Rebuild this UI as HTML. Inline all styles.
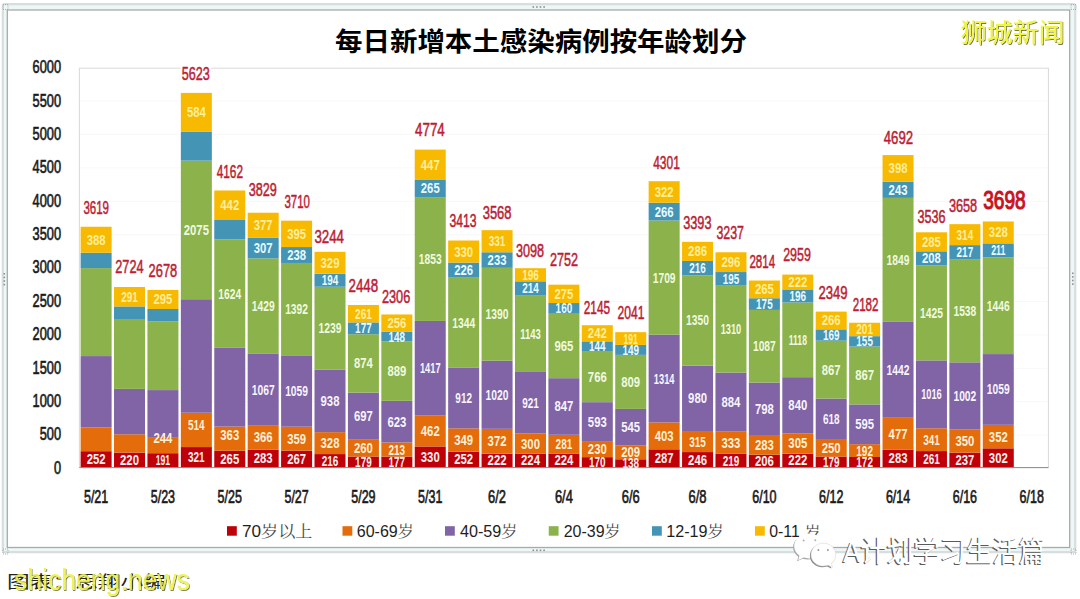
<!DOCTYPE html><html><head><meta charset="utf-8"><title>每日新增本土感染病例按年龄划分</title><style>
html,body{margin:0;padding:0;background:#fff;overflow:hidden}
svg{display:block}
.num{font-family:"Liberation Sans",sans-serif;font-weight:bold}
.cjk{font-family:"Liberation Sans","Noto Sans CJK SC",sans-serif}
</style></head><body>
<svg width="1080" height="599" viewBox="0 0 1080 599">
<rect x="0" y="0" width="1080" height="599" fill="#ffffff"/>
<defs><filter id="ds" x="-5%" y="-20%" width="110%" height="140%"><feOffset in="SourceAlpha" dx="1" dy="1" result="off"/><feComposite in="off" in2="SourceAlpha" operator="out" result="edge"/><feFlood flood-color="#4a4a10" flood-opacity="0.75"/><feComposite in2="edge" operator="in" result="shadow"/><feMerge><feMergeNode in="shadow"/><feMergeNode in="SourceGraphic"/></feMerge></filter></defs>
<rect x="2.8" y="4.2" width="1072.4" height="548" rx="2" fill="#eff6f6" stroke="#d6dede" stroke-width="2.2"/>
<rect x="7.3" y="10" width="1062.4" height="537.5" fill="#ffffff" stroke="#a3abab" stroke-width="1.3"/>
<rect x="532.5" y="6.2" width="1.6" height="1.6" fill="#8a9090"/>
<rect x="536.1" y="6.2" width="1.6" height="1.6" fill="#8a9090"/>
<rect x="539.7" y="6.2" width="1.6" height="1.6" fill="#8a9090"/>
<rect x="543.3" y="6.2" width="1.6" height="1.6" fill="#8a9090"/>
<rect x="1072" y="272.5" width="1.6" height="1.6" fill="#8a9090"/>
<rect x="1072" y="276.1" width="1.6" height="1.6" fill="#8a9090"/>
<rect x="1072" y="279.7" width="1.6" height="1.6" fill="#8a9090"/>
<rect x="1072" y="283.3" width="1.6" height="1.6" fill="#8a9090"/>
<rect x="3.5" y="273" width="1.6" height="1.6" fill="#8a9090"/>
<rect x="3.5" y="276.6" width="1.6" height="1.6" fill="#8a9090"/>
<rect x="3.5" y="280.2" width="1.6" height="1.6" fill="#8a9090"/>
<rect x="3.5" y="283.8" width="1.6" height="1.6" fill="#8a9090"/>
<rect x="532.5" y="549.5" width="1.6" height="1.6" fill="#8a9090"/>
<rect x="536.1" y="549.5" width="1.6" height="1.6" fill="#8a9090"/>
<rect x="539.7" y="549.5" width="1.6" height="1.6" fill="#8a9090"/>
<rect x="543.3" y="549.5" width="1.6" height="1.6" fill="#8a9090"/>
<rect x="3" y="4.5" width="5" height="5" fill="none" stroke="#9aa0a0" stroke-width="0.8" stroke-dasharray="1 1"/>
<rect x="1071" y="4.5" width="5" height="5" fill="none" stroke="#9aa0a0" stroke-width="0.8" stroke-dasharray="1 1"/>
<rect x="3" y="549" width="5" height="5" fill="none" stroke="#9aa0a0" stroke-width="0.8" stroke-dasharray="1 1"/>
<rect x="1071" y="549" width="5" height="5" fill="none" stroke="#9aa0a0" stroke-width="0.8" stroke-dasharray="1 1"/>
<text class="cjk" x="335" y="50" font-size="26" font-weight="bold" fill="#000" dy="0.5" textLength="412" lengthAdjust="spacingAndGlyphs">每日新增本土感染病例按年龄划分</text>
<rect x="79.4" y="68.2" width="969" height="399.4" fill="#fff" stroke="#d9d9d9" stroke-width="1"/>
<line x1="79.9" y1="435.1" x2="1047.9" y2="435.1" stroke="#f8f8f8" stroke-width="1"/>
<line x1="79.9" y1="401.7" x2="1047.9" y2="401.7" stroke="#f8f8f8" stroke-width="1"/>
<line x1="79.9" y1="368.3" x2="1047.9" y2="368.3" stroke="#f8f8f8" stroke-width="1"/>
<line x1="79.9" y1="334.9" x2="1047.9" y2="334.9" stroke="#f8f8f8" stroke-width="1"/>
<line x1="79.9" y1="301.5" x2="1047.9" y2="301.5" stroke="#f8f8f8" stroke-width="1"/>
<line x1="79.9" y1="268.1" x2="1047.9" y2="268.1" stroke="#f8f8f8" stroke-width="1"/>
<line x1="79.9" y1="234.7" x2="1047.9" y2="234.7" stroke="#f8f8f8" stroke-width="1"/>
<line x1="79.9" y1="201.3" x2="1047.9" y2="201.3" stroke="#f8f8f8" stroke-width="1"/>
<line x1="79.9" y1="167.9" x2="1047.9" y2="167.9" stroke="#f8f8f8" stroke-width="1"/>
<line x1="79.9" y1="134.5" x2="1047.9" y2="134.5" stroke="#f8f8f8" stroke-width="1"/>
<line x1="79.9" y1="101.1" x2="1047.9" y2="101.1" stroke="#f8f8f8" stroke-width="1"/>
<text class="num" x="61" y="473.7" font-size="17.6" style="font-weight:normal" stroke="#1a1a1a" stroke-width="0.65" fill="#1a1a1a" text-anchor="end" textLength="7.1" lengthAdjust="spacingAndGlyphs">0</text>
<text class="num" x="61" y="440.33" font-size="17.6" style="font-weight:normal" stroke="#1a1a1a" stroke-width="0.65" fill="#1a1a1a" text-anchor="end" textLength="21.3" lengthAdjust="spacingAndGlyphs">500</text>
<text class="num" x="61" y="406.96" font-size="17.6" style="font-weight:normal" stroke="#1a1a1a" stroke-width="0.65" fill="#1a1a1a" text-anchor="end" textLength="28.4" lengthAdjust="spacingAndGlyphs">1000</text>
<text class="num" x="61" y="373.59" font-size="17.6" style="font-weight:normal" stroke="#1a1a1a" stroke-width="0.65" fill="#1a1a1a" text-anchor="end" textLength="28.4" lengthAdjust="spacingAndGlyphs">1500</text>
<text class="num" x="61" y="340.22" font-size="17.6" style="font-weight:normal" stroke="#1a1a1a" stroke-width="0.65" fill="#1a1a1a" text-anchor="end" textLength="28.4" lengthAdjust="spacingAndGlyphs">2000</text>
<text class="num" x="61" y="306.85" font-size="17.6" style="font-weight:normal" stroke="#1a1a1a" stroke-width="0.65" fill="#1a1a1a" text-anchor="end" textLength="28.4" lengthAdjust="spacingAndGlyphs">2500</text>
<text class="num" x="61" y="273.48" font-size="17.6" style="font-weight:normal" stroke="#1a1a1a" stroke-width="0.65" fill="#1a1a1a" text-anchor="end" textLength="28.4" lengthAdjust="spacingAndGlyphs">3000</text>
<text class="num" x="61" y="240.11" font-size="17.6" style="font-weight:normal" stroke="#1a1a1a" stroke-width="0.65" fill="#1a1a1a" text-anchor="end" textLength="28.4" lengthAdjust="spacingAndGlyphs">3500</text>
<text class="num" x="61" y="206.74" font-size="17.6" style="font-weight:normal" stroke="#1a1a1a" stroke-width="0.65" fill="#1a1a1a" text-anchor="end" textLength="28.4" lengthAdjust="spacingAndGlyphs">4000</text>
<text class="num" x="61" y="173.37" font-size="17.6" style="font-weight:normal" stroke="#1a1a1a" stroke-width="0.65" fill="#1a1a1a" text-anchor="end" textLength="28.4" lengthAdjust="spacingAndGlyphs">4500</text>
<text class="num" x="61" y="140" font-size="17.6" style="font-weight:normal" stroke="#1a1a1a" stroke-width="0.65" fill="#1a1a1a" text-anchor="end" textLength="28.4" lengthAdjust="spacingAndGlyphs">5000</text>
<text class="num" x="61" y="106.63" font-size="17.6" style="font-weight:normal" stroke="#1a1a1a" stroke-width="0.65" fill="#1a1a1a" text-anchor="end" textLength="28.4" lengthAdjust="spacingAndGlyphs">5500</text>
<text class="num" x="61" y="73.26" font-size="17.6" style="font-weight:normal" stroke="#1a1a1a" stroke-width="0.65" fill="#1a1a1a" text-anchor="end" textLength="28.4" lengthAdjust="spacingAndGlyphs">6000</text>
<rect x="80.61" y="451.2" width="31" height="16.3" fill="#BF0008"/>
<rect x="80.61" y="427.42" width="31" height="23.78" fill="#E46C0A"/>
<rect x="80.61" y="356.08" width="31" height="71.34" fill="#8064A6"/>
<rect x="80.61" y="268.1" width="31" height="87.98" fill="#8CB24B"/>
<rect x="80.61" y="252.67" width="31" height="15.43" fill="#4494B6"/>
<rect x="80.61" y="226.75" width="31" height="25.92" fill="#F8BA00"/>
<rect x="114.02" y="452.6" width="31" height="14.9" fill="#BF0008"/>
<rect x="114.02" y="434.3" width="31" height="18.3" fill="#E46C0A"/>
<rect x="114.02" y="388.87" width="31" height="45.42" fill="#8064A6"/>
<rect x="114.02" y="319" width="31" height="69.87" fill="#8CB24B"/>
<rect x="114.02" y="306.44" width="31" height="12.56" fill="#4494B6"/>
<rect x="114.02" y="287" width="31" height="19.44" fill="#F8BA00"/>
<rect x="147.43" y="453.2" width="31" height="14.3" fill="#BF0008"/>
<rect x="147.43" y="437.77" width="31" height="15.43" fill="#E46C0A"/>
<rect x="147.43" y="390.08" width="31" height="47.7" fill="#8064A6"/>
<rect x="147.43" y="321.47" width="31" height="68.6" fill="#8CB24B"/>
<rect x="147.43" y="308.98" width="31" height="12.49" fill="#4494B6"/>
<rect x="147.43" y="289.94" width="31" height="19.04" fill="#F8BA00"/>
<rect x="180.85" y="447.06" width="31" height="20.44" fill="#BF0008"/>
<rect x="180.85" y="412.72" width="31" height="34.34" fill="#E46C0A"/>
<rect x="180.85" y="299.23" width="31" height="113.49" fill="#8064A6"/>
<rect x="180.85" y="160.62" width="31" height="138.61" fill="#8CB24B"/>
<rect x="180.85" y="131.89" width="31" height="28.72" fill="#4494B6"/>
<rect x="180.85" y="92.88" width="31" height="39.01" fill="#F8BA00"/>
<rect x="214.26" y="450.8" width="31" height="16.7" fill="#BF0008"/>
<rect x="214.26" y="426.55" width="31" height="24.25" fill="#E46C0A"/>
<rect x="214.26" y="347.86" width="31" height="78.69" fill="#8064A6"/>
<rect x="214.26" y="239.38" width="31" height="108.48" fill="#8CB24B"/>
<rect x="214.26" y="220" width="31" height="19.37" fill="#4494B6"/>
<rect x="214.26" y="190.48" width="31" height="29.53" fill="#F8BA00"/>
<rect x="247.68" y="449.6" width="31" height="17.9" fill="#BF0008"/>
<rect x="247.68" y="425.15" width="31" height="24.45" fill="#E46C0A"/>
<rect x="247.68" y="353.87" width="31" height="71.28" fill="#8064A6"/>
<rect x="247.68" y="258.41" width="31" height="95.46" fill="#8CB24B"/>
<rect x="247.68" y="237.91" width="31" height="20.51" fill="#4494B6"/>
<rect x="247.68" y="212.72" width="31" height="25.18" fill="#F8BA00"/>
<rect x="281.09" y="450.66" width="31" height="16.84" fill="#BF0008"/>
<rect x="281.09" y="426.68" width="31" height="23.98" fill="#E46C0A"/>
<rect x="281.09" y="355.94" width="31" height="70.74" fill="#8064A6"/>
<rect x="281.09" y="262.96" width="31" height="92.99" fill="#8CB24B"/>
<rect x="281.09" y="247.06" width="31" height="15.9" fill="#4494B6"/>
<rect x="281.09" y="220.67" width="31" height="26.39" fill="#F8BA00"/>
<rect x="314.5" y="454.07" width="31" height="13.43" fill="#BF0008"/>
<rect x="314.5" y="432.16" width="31" height="21.91" fill="#E46C0A"/>
<rect x="314.5" y="369.5" width="31" height="62.66" fill="#8064A6"/>
<rect x="314.5" y="286.74" width="31" height="82.77" fill="#8CB24B"/>
<rect x="314.5" y="273.78" width="31" height="12.96" fill="#4494B6"/>
<rect x="314.5" y="251.8" width="31" height="21.98" fill="#F8BA00"/>
<rect x="347.92" y="456.54" width="31" height="10.96" fill="#BF0008"/>
<rect x="347.92" y="439.17" width="31" height="17.37" fill="#E46C0A"/>
<rect x="347.92" y="392.62" width="31" height="46.56" fill="#8064A6"/>
<rect x="347.92" y="334.23" width="31" height="58.38" fill="#8CB24B"/>
<rect x="347.92" y="322.41" width="31" height="11.82" fill="#4494B6"/>
<rect x="347.92" y="304.97" width="31" height="17.43" fill="#F8BA00"/>
<rect x="381.33" y="456.68" width="31" height="10.82" fill="#BF0008"/>
<rect x="381.33" y="442.45" width="31" height="14.23" fill="#E46C0A"/>
<rect x="381.33" y="400.83" width="31" height="41.62" fill="#8064A6"/>
<rect x="381.33" y="341.45" width="31" height="59.39" fill="#8CB24B"/>
<rect x="381.33" y="331.56" width="31" height="9.89" fill="#4494B6"/>
<rect x="381.33" y="314.46" width="31" height="17.1" fill="#F8BA00"/>
<rect x="414.74" y="446.46" width="31" height="21.04" fill="#BF0008"/>
<rect x="414.74" y="415.59" width="31" height="30.86" fill="#E46C0A"/>
<rect x="414.74" y="320.94" width="31" height="94.66" fill="#8064A6"/>
<rect x="414.74" y="197.16" width="31" height="123.78" fill="#8CB24B"/>
<rect x="414.74" y="179.46" width="31" height="17.7" fill="#4494B6"/>
<rect x="414.74" y="149.6" width="31" height="29.86" fill="#F8BA00"/>
<rect x="448.16" y="451.67" width="31" height="15.83" fill="#BF0008"/>
<rect x="448.16" y="428.35" width="31" height="23.31" fill="#E46C0A"/>
<rect x="448.16" y="367.43" width="31" height="60.92" fill="#8064A6"/>
<rect x="448.16" y="277.65" width="31" height="89.78" fill="#8CB24B"/>
<rect x="448.16" y="262.56" width="31" height="15.1" fill="#4494B6"/>
<rect x="448.16" y="240.51" width="31" height="22.04" fill="#F8BA00"/>
<rect x="481.57" y="453.67" width="31" height="13.83" fill="#BF0008"/>
<rect x="481.57" y="428.82" width="31" height="24.85" fill="#E46C0A"/>
<rect x="481.57" y="360.68" width="31" height="68.14" fill="#8064A6"/>
<rect x="481.57" y="267.83" width="31" height="92.85" fill="#8CB24B"/>
<rect x="481.57" y="252.27" width="31" height="15.56" fill="#4494B6"/>
<rect x="481.57" y="230.16" width="31" height="22.11" fill="#F8BA00"/>
<rect x="514.99" y="453.54" width="31" height="13.96" fill="#BF0008"/>
<rect x="514.99" y="433.5" width="31" height="20.04" fill="#E46C0A"/>
<rect x="514.99" y="371.97" width="31" height="61.52" fill="#8064A6"/>
<rect x="514.99" y="295.62" width="31" height="76.35" fill="#8CB24B"/>
<rect x="514.99" y="281.33" width="31" height="14.3" fill="#4494B6"/>
<rect x="514.99" y="268.23" width="31" height="13.09" fill="#F8BA00"/>
<rect x="548.4" y="453.54" width="31" height="13.96" fill="#BF0008"/>
<rect x="548.4" y="434.77" width="31" height="18.77" fill="#E46C0A"/>
<rect x="548.4" y="378.19" width="31" height="56.58" fill="#8064A6"/>
<rect x="548.4" y="313.72" width="31" height="64.46" fill="#8CB24B"/>
<rect x="548.4" y="303.04" width="31" height="10.69" fill="#4494B6"/>
<rect x="548.4" y="284.67" width="31" height="18.37" fill="#F8BA00"/>
<rect x="581.81" y="457.14" width="31" height="10.36" fill="#BF0008"/>
<rect x="581.81" y="441.78" width="31" height="15.36" fill="#E46C0A"/>
<rect x="581.81" y="402.17" width="31" height="39.61" fill="#8064A6"/>
<rect x="581.81" y="351" width="31" height="51.17" fill="#8CB24B"/>
<rect x="581.81" y="341.38" width="31" height="9.62" fill="#4494B6"/>
<rect x="581.81" y="325.21" width="31" height="16.17" fill="#F8BA00"/>
<rect x="615.23" y="459.28" width="31" height="8.22" fill="#BF0008"/>
<rect x="615.23" y="445.32" width="31" height="13.96" fill="#E46C0A"/>
<rect x="615.23" y="408.91" width="31" height="36.41" fill="#8064A6"/>
<rect x="615.23" y="354.87" width="31" height="54.04" fill="#8CB24B"/>
<rect x="615.23" y="344.92" width="31" height="9.95" fill="#4494B6"/>
<rect x="615.23" y="332.16" width="31" height="12.76" fill="#F8BA00"/>
<rect x="648.64" y="449.33" width="31" height="18.17" fill="#BF0008"/>
<rect x="648.64" y="422.41" width="31" height="26.92" fill="#E46C0A"/>
<rect x="648.64" y="334.63" width="31" height="87.78" fill="#8064A6"/>
<rect x="648.64" y="220.47" width="31" height="114.16" fill="#8CB24B"/>
<rect x="648.64" y="202.7" width="31" height="17.77" fill="#4494B6"/>
<rect x="648.64" y="181.19" width="31" height="21.51" fill="#F8BA00"/>
<rect x="682.06" y="452.07" width="31" height="15.43" fill="#BF0008"/>
<rect x="682.06" y="431.03" width="31" height="21.04" fill="#E46C0A"/>
<rect x="682.06" y="365.56" width="31" height="65.46" fill="#8064A6"/>
<rect x="682.06" y="275.38" width="31" height="90.18" fill="#8CB24B"/>
<rect x="682.06" y="260.95" width="31" height="14.43" fill="#4494B6"/>
<rect x="682.06" y="241.85" width="31" height="19.1" fill="#F8BA00"/>
<rect x="715.47" y="453.87" width="31" height="13.63" fill="#BF0008"/>
<rect x="715.47" y="431.63" width="31" height="22.24" fill="#E46C0A"/>
<rect x="715.47" y="372.58" width="31" height="59.05" fill="#8064A6"/>
<rect x="715.47" y="285.07" width="31" height="87.51" fill="#8CB24B"/>
<rect x="715.47" y="272.04" width="31" height="13.03" fill="#4494B6"/>
<rect x="715.47" y="252.27" width="31" height="19.77" fill="#F8BA00"/>
<rect x="748.88" y="454.74" width="31" height="12.76" fill="#BF0008"/>
<rect x="748.88" y="435.83" width="31" height="18.9" fill="#E46C0A"/>
<rect x="748.88" y="382.53" width="31" height="53.31" fill="#8064A6"/>
<rect x="748.88" y="309.92" width="31" height="72.61" fill="#8CB24B"/>
<rect x="748.88" y="298.23" width="31" height="11.69" fill="#4494B6"/>
<rect x="748.88" y="280.52" width="31" height="17.7" fill="#F8BA00"/>
<rect x="782.3" y="453.67" width="31" height="13.83" fill="#BF0008"/>
<rect x="782.3" y="433.3" width="31" height="20.37" fill="#E46C0A"/>
<rect x="782.3" y="377.18" width="31" height="56.11" fill="#8064A6"/>
<rect x="782.3" y="302.5" width="31" height="74.68" fill="#8CB24B"/>
<rect x="782.3" y="289.41" width="31" height="13.09" fill="#4494B6"/>
<rect x="782.3" y="274.58" width="31" height="14.83" fill="#F8BA00"/>
<rect x="815.71" y="456.54" width="31" height="10.96" fill="#BF0008"/>
<rect x="815.71" y="439.84" width="31" height="16.7" fill="#E46C0A"/>
<rect x="815.71" y="398.56" width="31" height="41.28" fill="#8064A6"/>
<rect x="815.71" y="340.64" width="31" height="57.92" fill="#8CB24B"/>
<rect x="815.71" y="329.36" width="31" height="11.29" fill="#4494B6"/>
<rect x="815.71" y="311.59" width="31" height="17.77" fill="#F8BA00"/>
<rect x="849.12" y="457.01" width="31" height="10.49" fill="#BF0008"/>
<rect x="849.12" y="444.18" width="31" height="12.83" fill="#E46C0A"/>
<rect x="849.12" y="404.44" width="31" height="39.75" fill="#8064A6"/>
<rect x="849.12" y="346.52" width="31" height="57.92" fill="#8CB24B"/>
<rect x="849.12" y="336.17" width="31" height="10.35" fill="#4494B6"/>
<rect x="849.12" y="322.74" width="31" height="13.43" fill="#F8BA00"/>
<rect x="882.54" y="449.6" width="31" height="17.9" fill="#BF0008"/>
<rect x="882.54" y="417.73" width="31" height="31.86" fill="#E46C0A"/>
<rect x="882.54" y="321.41" width="31" height="96.33" fill="#8064A6"/>
<rect x="882.54" y="197.89" width="31" height="123.51" fill="#8CB24B"/>
<rect x="882.54" y="181.66" width="31" height="16.23" fill="#4494B6"/>
<rect x="882.54" y="155.07" width="31" height="26.59" fill="#F8BA00"/>
<rect x="915.95" y="451.07" width="31" height="16.43" fill="#BF0008"/>
<rect x="915.95" y="428.29" width="31" height="22.78" fill="#E46C0A"/>
<rect x="915.95" y="360.42" width="31" height="67.87" fill="#8064A6"/>
<rect x="915.95" y="265.23" width="31" height="95.19" fill="#8CB24B"/>
<rect x="915.95" y="251.33" width="31" height="13.89" fill="#4494B6"/>
<rect x="915.95" y="232.3" width="31" height="19.04" fill="#F8BA00"/>
<rect x="949.37" y="452.67" width="31" height="14.83" fill="#BF0008"/>
<rect x="949.37" y="429.29" width="31" height="23.38" fill="#E46C0A"/>
<rect x="949.37" y="362.35" width="31" height="66.93" fill="#8064A6"/>
<rect x="949.37" y="259.62" width="31" height="102.74" fill="#8CB24B"/>
<rect x="949.37" y="245.12" width="31" height="14.5" fill="#4494B6"/>
<rect x="949.37" y="224.15" width="31" height="20.98" fill="#F8BA00"/>
<rect x="982.78" y="448.33" width="31" height="19.17" fill="#BF0008"/>
<rect x="982.78" y="424.81" width="31" height="23.51" fill="#E46C0A"/>
<rect x="982.78" y="354.07" width="31" height="70.74" fill="#8064A6"/>
<rect x="982.78" y="257.48" width="31" height="96.59" fill="#8CB24B"/>
<rect x="982.78" y="243.38" width="31" height="14.09" fill="#4494B6"/>
<rect x="982.78" y="221.47" width="31" height="21.91" fill="#F8BA00"/>
<line x1="79.4" y1="467.6" x2="1048.4" y2="467.6" stroke="#8c8c8c" stroke-width="1"/>
<text class="num" x="96.11" y="464.25" font-size="14.6" fill="#FFF0F0" text-anchor="middle" textLength="18.9" lengthAdjust="spacingAndGlyphs">252</text>
<text class="num" x="96.11" y="244.71" font-size="14.6" fill="#FFEE9C" text-anchor="middle" textLength="18.9" lengthAdjust="spacingAndGlyphs">388</text>
<text class="num" x="129.52" y="464.95" font-size="14.6" fill="#FFF0F0" text-anchor="middle" textLength="18.9" lengthAdjust="spacingAndGlyphs">220</text>
<text class="num" x="129.52" y="301.72" font-size="14.6" fill="#FFEE9C" text-anchor="middle" textLength="16.6" lengthAdjust="spacingAndGlyphs">291</text>
<text class="num" x="162.93" y="465.25" font-size="14.6" fill="#FFF0F0" text-anchor="middle" textLength="14.3" lengthAdjust="spacingAndGlyphs">191</text>
<text class="num" x="162.93" y="443.3" font-size="14.6" fill="#FFF0D8" text-anchor="middle" textLength="18.9" lengthAdjust="spacingAndGlyphs">244</text>
<text class="num" x="162.93" y="304.46" font-size="14.6" fill="#FFEE9C" text-anchor="middle" textLength="18.9" lengthAdjust="spacingAndGlyphs">295</text>
<text class="num" x="196.35" y="462.18" font-size="14.6" fill="#FFF0F0" text-anchor="middle" textLength="16.6" lengthAdjust="spacingAndGlyphs">321</text>
<text class="num" x="196.35" y="430.09" font-size="14.6" fill="#FFF0D8" text-anchor="middle" textLength="16.6" lengthAdjust="spacingAndGlyphs">514</text>
<text class="num" x="196.35" y="234.92" font-size="14.6" fill="#F0FAE0" text-anchor="middle" textLength="25.2" lengthAdjust="spacingAndGlyphs">2075</text>
<text class="num" x="196.35" y="117.39" font-size="14.6" fill="#FFEE9C" text-anchor="middle" textLength="18.9" lengthAdjust="spacingAndGlyphs">584</text>
<text class="num" x="229.76" y="464.05" font-size="14.6" fill="#FFF0F0" text-anchor="middle" textLength="18.9" lengthAdjust="spacingAndGlyphs">265</text>
<text class="num" x="229.76" y="439.87" font-size="14.6" fill="#FFF0D8" text-anchor="middle" textLength="18.9" lengthAdjust="spacingAndGlyphs">363</text>
<text class="num" x="229.76" y="298.62" font-size="14.6" fill="#F0FAE0" text-anchor="middle" textLength="22.9" lengthAdjust="spacingAndGlyphs">1624</text>
<text class="num" x="229.76" y="210.24" font-size="14.6" fill="#FFEE9C" text-anchor="middle" textLength="18.9" lengthAdjust="spacingAndGlyphs">442</text>
<text class="num" x="263.18" y="463.45" font-size="14.6" fill="#FFF0F0" text-anchor="middle" textLength="18.9" lengthAdjust="spacingAndGlyphs">283</text>
<text class="num" x="263.18" y="442.37" font-size="14.6" fill="#FFF0D8" text-anchor="middle" textLength="18.9" lengthAdjust="spacingAndGlyphs">366</text>
<text class="num" x="263.18" y="394.51" font-size="14.6" fill="#F8F4FF" text-anchor="middle" textLength="22.9" lengthAdjust="spacingAndGlyphs">1067</text>
<text class="num" x="263.18" y="311.14" font-size="14.6" fill="#F0FAE0" text-anchor="middle" textLength="22.9" lengthAdjust="spacingAndGlyphs">1429</text>
<text class="num" x="263.18" y="253.16" font-size="14.6" fill="#E8FAFF" text-anchor="middle" textLength="18.9" lengthAdjust="spacingAndGlyphs">307</text>
<text class="num" x="263.18" y="230.31" font-size="14.6" fill="#FFEE9C" text-anchor="middle" textLength="18.9" lengthAdjust="spacingAndGlyphs">377</text>
<text class="num" x="296.59" y="463.98" font-size="14.6" fill="#FFF0F0" text-anchor="middle" textLength="18.9" lengthAdjust="spacingAndGlyphs">267</text>
<text class="num" x="296.59" y="443.67" font-size="14.6" fill="#FFF0D8" text-anchor="middle" textLength="18.9" lengthAdjust="spacingAndGlyphs">359</text>
<text class="num" x="296.59" y="396.31" font-size="14.6" fill="#F8F4FF" text-anchor="middle" textLength="22.9" lengthAdjust="spacingAndGlyphs">1059</text>
<text class="num" x="296.59" y="314.45" font-size="14.6" fill="#F0FAE0" text-anchor="middle" textLength="22.9" lengthAdjust="spacingAndGlyphs">1392</text>
<text class="num" x="296.59" y="260.01" font-size="14.6" fill="#E8FAFF" text-anchor="middle" textLength="18.9" lengthAdjust="spacingAndGlyphs">238</text>
<text class="num" x="296.59" y="238.87" font-size="14.6" fill="#FFEE9C" text-anchor="middle" textLength="18.9" lengthAdjust="spacingAndGlyphs">395</text>
<text class="num" x="330" y="465.69" font-size="14.6" fill="#FFF0F0" text-anchor="middle" textLength="16.6" lengthAdjust="spacingAndGlyphs">216</text>
<text class="num" x="330" y="448.12" font-size="14.6" fill="#FFF0D8" text-anchor="middle" textLength="18.9" lengthAdjust="spacingAndGlyphs">328</text>
<text class="num" x="330" y="405.83" font-size="14.6" fill="#F8F4FF" text-anchor="middle" textLength="18.9" lengthAdjust="spacingAndGlyphs">938</text>
<text class="num" x="330" y="333.12" font-size="14.6" fill="#F0FAE0" text-anchor="middle" textLength="22.9" lengthAdjust="spacingAndGlyphs">1239</text>
<text class="num" x="330" y="285.26" font-size="14.6" fill="#E8FAFF" text-anchor="middle" textLength="16.6" lengthAdjust="spacingAndGlyphs">194</text>
<text class="num" x="330" y="267.79" font-size="14.6" fill="#FFEE9C" text-anchor="middle" textLength="18.9" lengthAdjust="spacingAndGlyphs">329</text>
<text class="num" x="363.42" y="466.92" font-size="14.6" fill="#FFF0F0" text-anchor="middle" textLength="16.6" lengthAdjust="spacingAndGlyphs">179</text>
<text class="num" x="363.42" y="452.86" font-size="14.6" fill="#FFF0D8" text-anchor="middle" textLength="18.9" lengthAdjust="spacingAndGlyphs">260</text>
<text class="num" x="363.42" y="420.89" font-size="14.6" fill="#F8F4FF" text-anchor="middle" textLength="18.9" lengthAdjust="spacingAndGlyphs">697</text>
<text class="num" x="363.42" y="368.42" font-size="14.6" fill="#F0FAE0" text-anchor="middle" textLength="18.9" lengthAdjust="spacingAndGlyphs">874</text>
<text class="num" x="363.42" y="333.32" font-size="14.6" fill="#E8FAFF" text-anchor="middle" textLength="16.6" lengthAdjust="spacingAndGlyphs">177</text>
<text class="num" x="363.42" y="318.69" font-size="14.6" fill="#FFEE9C" text-anchor="middle" textLength="16.6" lengthAdjust="spacingAndGlyphs">261</text>
<text class="num" x="396.83" y="466.99" font-size="14.6" fill="#FFF0F0" text-anchor="middle" textLength="16.6" lengthAdjust="spacingAndGlyphs">177</text>
<text class="num" x="396.83" y="454.56" font-size="14.6" fill="#FFF0D8" text-anchor="middle" textLength="16.6" lengthAdjust="spacingAndGlyphs">213</text>
<text class="num" x="396.83" y="426.64" font-size="14.6" fill="#F8F4FF" text-anchor="middle" textLength="18.9" lengthAdjust="spacingAndGlyphs">623</text>
<text class="num" x="396.83" y="376.14" font-size="14.6" fill="#F0FAE0" text-anchor="middle" textLength="18.9" lengthAdjust="spacingAndGlyphs">889</text>
<text class="num" x="396.83" y="341.5" font-size="14.6" fill="#E8FAFF" text-anchor="middle" textLength="16.6" lengthAdjust="spacingAndGlyphs">148</text>
<text class="num" x="396.83" y="328.01" font-size="14.6" fill="#FFEE9C" text-anchor="middle" textLength="18.9" lengthAdjust="spacingAndGlyphs">256</text>
<text class="num" x="430.24" y="461.88" font-size="14.6" fill="#FFF0F0" text-anchor="middle" textLength="18.9" lengthAdjust="spacingAndGlyphs">330</text>
<text class="num" x="430.24" y="436.03" font-size="14.6" fill="#FFF0D8" text-anchor="middle" textLength="18.9" lengthAdjust="spacingAndGlyphs">462</text>
<text class="num" x="430.24" y="373.27" font-size="14.6" fill="#F8F4FF" text-anchor="middle" textLength="20.6" lengthAdjust="spacingAndGlyphs">1417</text>
<text class="num" x="430.24" y="264.05" font-size="14.6" fill="#F0FAE0" text-anchor="middle" textLength="22.9" lengthAdjust="spacingAndGlyphs">1853</text>
<text class="num" x="430.24" y="193.31" font-size="14.6" fill="#E8FAFF" text-anchor="middle" textLength="18.9" lengthAdjust="spacingAndGlyphs">265</text>
<text class="num" x="430.24" y="169.53" font-size="14.6" fill="#FFEE9C" text-anchor="middle" textLength="18.9" lengthAdjust="spacingAndGlyphs">447</text>
<text class="num" x="463.66" y="464.48" font-size="14.6" fill="#FFF0F0" text-anchor="middle" textLength="18.9" lengthAdjust="spacingAndGlyphs">252</text>
<text class="num" x="463.66" y="445.01" font-size="14.6" fill="#FFF0D8" text-anchor="middle" textLength="18.9" lengthAdjust="spacingAndGlyphs">349</text>
<text class="num" x="463.66" y="402.89" font-size="14.6" fill="#F8F4FF" text-anchor="middle" textLength="16.6" lengthAdjust="spacingAndGlyphs">912</text>
<text class="num" x="463.66" y="327.54" font-size="14.6" fill="#F0FAE0" text-anchor="middle" textLength="22.9" lengthAdjust="spacingAndGlyphs">1344</text>
<text class="num" x="463.66" y="275.1" font-size="14.6" fill="#E8FAFF" text-anchor="middle" textLength="18.9" lengthAdjust="spacingAndGlyphs">226</text>
<text class="num" x="463.66" y="256.53" font-size="14.6" fill="#FFEE9C" text-anchor="middle" textLength="18.9" lengthAdjust="spacingAndGlyphs">330</text>
<text class="num" x="497.07" y="465.49" font-size="14.6" fill="#FFF0F0" text-anchor="middle" textLength="18.9" lengthAdjust="spacingAndGlyphs">222</text>
<text class="num" x="497.07" y="446.25" font-size="14.6" fill="#FFF0D8" text-anchor="middle" textLength="18.9" lengthAdjust="spacingAndGlyphs">372</text>
<text class="num" x="497.07" y="399.75" font-size="14.6" fill="#F8F4FF" text-anchor="middle" textLength="22.9" lengthAdjust="spacingAndGlyphs">1020</text>
<text class="num" x="497.07" y="319.26" font-size="14.6" fill="#F0FAE0" text-anchor="middle" textLength="22.9" lengthAdjust="spacingAndGlyphs">1390</text>
<text class="num" x="497.07" y="265.05" font-size="14.6" fill="#E8FAFF" text-anchor="middle" textLength="18.9" lengthAdjust="spacingAndGlyphs">233</text>
<text class="num" x="497.07" y="246.21" font-size="14.6" fill="#FFEE9C" text-anchor="middle" textLength="16.6" lengthAdjust="spacingAndGlyphs">331</text>
<text class="num" x="530.49" y="465.42" font-size="14.6" fill="#FFF0F0" text-anchor="middle" textLength="18.9" lengthAdjust="spacingAndGlyphs">224</text>
<text class="num" x="530.49" y="448.52" font-size="14.6" fill="#FFF0D8" text-anchor="middle" textLength="18.9" lengthAdjust="spacingAndGlyphs">300</text>
<text class="num" x="530.49" y="407.74" font-size="14.6" fill="#F8F4FF" text-anchor="middle" textLength="16.6" lengthAdjust="spacingAndGlyphs">921</text>
<text class="num" x="530.49" y="338.8" font-size="14.6" fill="#F0FAE0" text-anchor="middle" textLength="20.6" lengthAdjust="spacingAndGlyphs">1143</text>
<text class="num" x="530.49" y="293.47" font-size="14.6" fill="#E8FAFF" text-anchor="middle" textLength="16.6" lengthAdjust="spacingAndGlyphs">214</text>
<text class="num" x="530.49" y="279.78" font-size="14.6" fill="#FFEE9C" text-anchor="middle" textLength="16.6" lengthAdjust="spacingAndGlyphs">196</text>
<text class="num" x="563.9" y="465.42" font-size="14.6" fill="#FFF0F0" text-anchor="middle" textLength="18.9" lengthAdjust="spacingAndGlyphs">224</text>
<text class="num" x="563.9" y="449.15" font-size="14.6" fill="#FFF0D8" text-anchor="middle" textLength="16.6" lengthAdjust="spacingAndGlyphs">281</text>
<text class="num" x="563.9" y="411.48" font-size="14.6" fill="#F8F4FF" text-anchor="middle" textLength="18.9" lengthAdjust="spacingAndGlyphs">847</text>
<text class="num" x="563.9" y="350.96" font-size="14.6" fill="#F0FAE0" text-anchor="middle" textLength="18.9" lengthAdjust="spacingAndGlyphs">965</text>
<text class="num" x="563.9" y="313.38" font-size="14.6" fill="#E8FAFF" text-anchor="middle" textLength="16.6" lengthAdjust="spacingAndGlyphs">160</text>
<text class="num" x="563.9" y="298.85" font-size="14.6" fill="#FFEE9C" text-anchor="middle" textLength="18.9" lengthAdjust="spacingAndGlyphs">275</text>
<text class="num" x="597.31" y="467.22" font-size="14.6" fill="#FFF0F0" text-anchor="middle" textLength="16.6" lengthAdjust="spacingAndGlyphs">170</text>
<text class="num" x="597.31" y="454.46" font-size="14.6" fill="#FFF0D8" text-anchor="middle" textLength="18.9" lengthAdjust="spacingAndGlyphs">230</text>
<text class="num" x="597.31" y="426.97" font-size="14.6" fill="#F8F4FF" text-anchor="middle" textLength="18.9" lengthAdjust="spacingAndGlyphs">593</text>
<text class="num" x="597.31" y="381.58" font-size="14.6" fill="#F0FAE0" text-anchor="middle" textLength="18.9" lengthAdjust="spacingAndGlyphs">766</text>
<text class="num" x="597.31" y="351.19" font-size="14.6" fill="#E8FAFF" text-anchor="middle" textLength="16.6" lengthAdjust="spacingAndGlyphs">144</text>
<text class="num" x="597.31" y="338.3" font-size="14.6" fill="#FFEE9C" text-anchor="middle" textLength="18.9" lengthAdjust="spacingAndGlyphs">242</text>
<text class="num" x="630.73" y="468.29" font-size="14.6" fill="#FFF0F0" text-anchor="middle" textLength="16.6" lengthAdjust="spacingAndGlyphs">138</text>
<text class="num" x="630.73" y="457.3" font-size="14.6" fill="#FFF0D8" text-anchor="middle" textLength="18.9" lengthAdjust="spacingAndGlyphs">209</text>
<text class="num" x="630.73" y="432.12" font-size="14.6" fill="#F8F4FF" text-anchor="middle" textLength="18.9" lengthAdjust="spacingAndGlyphs">545</text>
<text class="num" x="630.73" y="386.89" font-size="14.6" fill="#F0FAE0" text-anchor="middle" textLength="18.9" lengthAdjust="spacingAndGlyphs">809</text>
<text class="num" x="630.73" y="354.9" font-size="14.6" fill="#E8FAFF" text-anchor="middle" textLength="16.6" lengthAdjust="spacingAndGlyphs">149</text>
<text class="num" x="630.73" y="343.54" font-size="14.6" fill="#FFEE9C" text-anchor="middle" textLength="14.3" lengthAdjust="spacingAndGlyphs">191</text>
<text class="num" x="664.14" y="463.31" font-size="14.6" fill="#FFF0F0" text-anchor="middle" textLength="18.9" lengthAdjust="spacingAndGlyphs">287</text>
<text class="num" x="664.14" y="440.87" font-size="14.6" fill="#FFF0D8" text-anchor="middle" textLength="18.9" lengthAdjust="spacingAndGlyphs">403</text>
<text class="num" x="664.14" y="383.52" font-size="14.6" fill="#F8F4FF" text-anchor="middle" textLength="20.6" lengthAdjust="spacingAndGlyphs">1314</text>
<text class="num" x="664.14" y="282.55" font-size="14.6" fill="#F0FAE0" text-anchor="middle" textLength="22.9" lengthAdjust="spacingAndGlyphs">1709</text>
<text class="num" x="664.14" y="216.59" font-size="14.6" fill="#E8FAFF" text-anchor="middle" textLength="18.9" lengthAdjust="spacingAndGlyphs">266</text>
<text class="num" x="664.14" y="196.95" font-size="14.6" fill="#FFEE9C" text-anchor="middle" textLength="18.9" lengthAdjust="spacingAndGlyphs">322</text>
<text class="num" x="697.56" y="464.68" font-size="14.6" fill="#FFF0F0" text-anchor="middle" textLength="18.9" lengthAdjust="spacingAndGlyphs">246</text>
<text class="num" x="697.56" y="446.55" font-size="14.6" fill="#FFF0D8" text-anchor="middle" textLength="16.6" lengthAdjust="spacingAndGlyphs">315</text>
<text class="num" x="697.56" y="403.29" font-size="14.6" fill="#F8F4FF" text-anchor="middle" textLength="18.9" lengthAdjust="spacingAndGlyphs">980</text>
<text class="num" x="697.56" y="325.47" font-size="14.6" fill="#F0FAE0" text-anchor="middle" textLength="22.9" lengthAdjust="spacingAndGlyphs">1350</text>
<text class="num" x="697.56" y="273.17" font-size="14.6" fill="#E8FAFF" text-anchor="middle" textLength="16.6" lengthAdjust="spacingAndGlyphs">216</text>
<text class="num" x="697.56" y="256.4" font-size="14.6" fill="#FFEE9C" text-anchor="middle" textLength="18.9" lengthAdjust="spacingAndGlyphs">286</text>
<text class="num" x="730.97" y="465.59" font-size="14.6" fill="#FFF0F0" text-anchor="middle" textLength="16.6" lengthAdjust="spacingAndGlyphs">219</text>
<text class="num" x="730.97" y="447.75" font-size="14.6" fill="#FFF0D8" text-anchor="middle" textLength="18.9" lengthAdjust="spacingAndGlyphs">333</text>
<text class="num" x="730.97" y="407.1" font-size="14.6" fill="#F8F4FF" text-anchor="middle" textLength="18.9" lengthAdjust="spacingAndGlyphs">884</text>
<text class="num" x="730.97" y="333.82" font-size="14.6" fill="#F0FAE0" text-anchor="middle" textLength="20.6" lengthAdjust="spacingAndGlyphs">1310</text>
<text class="num" x="730.97" y="283.55" font-size="14.6" fill="#E8FAFF" text-anchor="middle" textLength="16.6" lengthAdjust="spacingAndGlyphs">195</text>
<text class="num" x="730.97" y="267.15" font-size="14.6" fill="#FFEE9C" text-anchor="middle" textLength="18.9" lengthAdjust="spacingAndGlyphs">296</text>
<text class="num" x="764.38" y="466.02" font-size="14.6" fill="#FFF0F0" text-anchor="middle" textLength="18.9" lengthAdjust="spacingAndGlyphs">206</text>
<text class="num" x="764.38" y="450.29" font-size="14.6" fill="#FFF0D8" text-anchor="middle" textLength="18.9" lengthAdjust="spacingAndGlyphs">283</text>
<text class="num" x="764.38" y="414.18" font-size="14.6" fill="#F8F4FF" text-anchor="middle" textLength="18.9" lengthAdjust="spacingAndGlyphs">798</text>
<text class="num" x="764.38" y="351.22" font-size="14.6" fill="#F0FAE0" text-anchor="middle" textLength="22.9" lengthAdjust="spacingAndGlyphs">1087</text>
<text class="num" x="764.38" y="309.07" font-size="14.6" fill="#E8FAFF" text-anchor="middle" textLength="16.6" lengthAdjust="spacingAndGlyphs">175</text>
<text class="num" x="764.38" y="294.38" font-size="14.6" fill="#FFEE9C" text-anchor="middle" textLength="18.9" lengthAdjust="spacingAndGlyphs">265</text>
<text class="num" x="797.8" y="465.49" font-size="14.6" fill="#FFF0F0" text-anchor="middle" textLength="18.9" lengthAdjust="spacingAndGlyphs">222</text>
<text class="num" x="797.8" y="448.48" font-size="14.6" fill="#FFF0D8" text-anchor="middle" textLength="18.9" lengthAdjust="spacingAndGlyphs">305</text>
<text class="num" x="797.8" y="410.24" font-size="14.6" fill="#F8F4FF" text-anchor="middle" textLength="18.9" lengthAdjust="spacingAndGlyphs">840</text>
<text class="num" x="797.8" y="344.84" font-size="14.6" fill="#F0FAE0" text-anchor="middle" textLength="18.3" lengthAdjust="spacingAndGlyphs">1118</text>
<text class="num" x="797.8" y="300.96" font-size="14.6" fill="#E8FAFF" text-anchor="middle" textLength="16.6" lengthAdjust="spacingAndGlyphs">196</text>
<text class="num" x="797.8" y="286.99" font-size="14.6" fill="#FFEE9C" text-anchor="middle" textLength="18.9" lengthAdjust="spacingAndGlyphs">222</text>
<text class="num" x="831.21" y="466.92" font-size="14.6" fill="#FFF0F0" text-anchor="middle" textLength="16.6" lengthAdjust="spacingAndGlyphs">179</text>
<text class="num" x="831.21" y="453.19" font-size="14.6" fill="#FFF0D8" text-anchor="middle" textLength="18.9" lengthAdjust="spacingAndGlyphs">250</text>
<text class="num" x="831.21" y="424.2" font-size="14.6" fill="#F8F4FF" text-anchor="middle" textLength="16.6" lengthAdjust="spacingAndGlyphs">618</text>
<text class="num" x="831.21" y="374.6" font-size="14.6" fill="#F0FAE0" text-anchor="middle" textLength="18.9" lengthAdjust="spacingAndGlyphs">867</text>
<text class="num" x="831.21" y="340" font-size="14.6" fill="#E8FAFF" text-anchor="middle" textLength="16.6" lengthAdjust="spacingAndGlyphs">169</text>
<text class="num" x="831.21" y="325.47" font-size="14.6" fill="#FFEE9C" text-anchor="middle" textLength="18.9" lengthAdjust="spacingAndGlyphs">266</text>
<text class="num" x="864.62" y="467.16" font-size="14.6" fill="#FFF0F0" text-anchor="middle" textLength="16.6" lengthAdjust="spacingAndGlyphs">172</text>
<text class="num" x="864.62" y="455.6" font-size="14.6" fill="#FFF0D8" text-anchor="middle" textLength="16.6" lengthAdjust="spacingAndGlyphs">192</text>
<text class="num" x="864.62" y="429.31" font-size="14.6" fill="#F8F4FF" text-anchor="middle" textLength="18.9" lengthAdjust="spacingAndGlyphs">595</text>
<text class="num" x="864.62" y="380.48" font-size="14.6" fill="#F0FAE0" text-anchor="middle" textLength="18.9" lengthAdjust="spacingAndGlyphs">867</text>
<text class="num" x="864.62" y="346.35" font-size="14.6" fill="#E8FAFF" text-anchor="middle" textLength="16.6" lengthAdjust="spacingAndGlyphs">155</text>
<text class="num" x="864.62" y="334.46" font-size="14.6" fill="#FFEE9C" text-anchor="middle" textLength="16.6" lengthAdjust="spacingAndGlyphs">201</text>
<text class="num" x="898.04" y="463.45" font-size="14.6" fill="#FFF0F0" text-anchor="middle" textLength="18.9" lengthAdjust="spacingAndGlyphs">283</text>
<text class="num" x="898.04" y="438.66" font-size="14.6" fill="#FFF0D8" text-anchor="middle" textLength="18.9" lengthAdjust="spacingAndGlyphs">477</text>
<text class="num" x="898.04" y="374.57" font-size="14.6" fill="#F8F4FF" text-anchor="middle" textLength="22.9" lengthAdjust="spacingAndGlyphs">1442</text>
<text class="num" x="898.04" y="264.65" font-size="14.6" fill="#F0FAE0" text-anchor="middle" textLength="22.9" lengthAdjust="spacingAndGlyphs">1849</text>
<text class="num" x="898.04" y="194.78" font-size="14.6" fill="#E8FAFF" text-anchor="middle" textLength="18.9" lengthAdjust="spacingAndGlyphs">243</text>
<text class="num" x="898.04" y="173.37" font-size="14.6" fill="#FFEE9C" text-anchor="middle" textLength="18.9" lengthAdjust="spacingAndGlyphs">398</text>
<text class="num" x="931.45" y="464.18" font-size="14.6" fill="#FFF0F0" text-anchor="middle" textLength="16.6" lengthAdjust="spacingAndGlyphs">261</text>
<text class="num" x="931.45" y="444.68" font-size="14.6" fill="#FFF0D8" text-anchor="middle" textLength="16.6" lengthAdjust="spacingAndGlyphs">341</text>
<text class="num" x="931.45" y="399.35" font-size="14.6" fill="#F8F4FF" text-anchor="middle" textLength="20.6" lengthAdjust="spacingAndGlyphs">1016</text>
<text class="num" x="931.45" y="317.82" font-size="14.6" fill="#F0FAE0" text-anchor="middle" textLength="22.9" lengthAdjust="spacingAndGlyphs">1425</text>
<text class="num" x="931.45" y="263.28" font-size="14.6" fill="#E8FAFF" text-anchor="middle" textLength="18.9" lengthAdjust="spacingAndGlyphs">208</text>
<text class="num" x="931.45" y="246.81" font-size="14.6" fill="#FFEE9C" text-anchor="middle" textLength="18.9" lengthAdjust="spacingAndGlyphs">285</text>
<text class="num" x="964.87" y="464.98" font-size="14.6" fill="#FFF0F0" text-anchor="middle" textLength="18.9" lengthAdjust="spacingAndGlyphs">237</text>
<text class="num" x="964.87" y="445.98" font-size="14.6" fill="#FFF0D8" text-anchor="middle" textLength="18.9" lengthAdjust="spacingAndGlyphs">350</text>
<text class="num" x="964.87" y="400.82" font-size="14.6" fill="#F8F4FF" text-anchor="middle" textLength="22.9" lengthAdjust="spacingAndGlyphs">1002</text>
<text class="num" x="964.87" y="315.99" font-size="14.6" fill="#F0FAE0" text-anchor="middle" textLength="22.9" lengthAdjust="spacingAndGlyphs">1538</text>
<text class="num" x="964.87" y="257.37" font-size="14.6" fill="#E8FAFF" text-anchor="middle" textLength="16.6" lengthAdjust="spacingAndGlyphs">217</text>
<text class="num" x="964.87" y="239.63" font-size="14.6" fill="#FFEE9C" text-anchor="middle" textLength="16.6" lengthAdjust="spacingAndGlyphs">314</text>
<text class="num" x="998.28" y="462.81" font-size="14.6" fill="#FFF0F0" text-anchor="middle" textLength="18.9" lengthAdjust="spacingAndGlyphs">302</text>
<text class="num" x="998.28" y="441.57" font-size="14.6" fill="#FFF0D8" text-anchor="middle" textLength="18.9" lengthAdjust="spacingAndGlyphs">352</text>
<text class="num" x="998.28" y="394.44" font-size="14.6" fill="#F8F4FF" text-anchor="middle" textLength="22.9" lengthAdjust="spacingAndGlyphs">1059</text>
<text class="num" x="998.28" y="310.78" font-size="14.6" fill="#F0FAE0" text-anchor="middle" textLength="22.9" lengthAdjust="spacingAndGlyphs">1446</text>
<text class="num" x="998.28" y="255.43" font-size="14.6" fill="#E8FAFF" text-anchor="middle" textLength="14.3" lengthAdjust="spacingAndGlyphs">211</text>
<text class="num" x="998.28" y="237.43" font-size="14.6" fill="#FFEE9C" text-anchor="middle" textLength="18.9" lengthAdjust="spacingAndGlyphs">328</text>
<rect x="180.5" y="66" width="30.5" height="15" fill="#fff"/>
<text class="num" x="83.5" y="213.8" font-size="17.6" style="font-weight:normal" stroke="#B41A30" stroke-width="0.5" fill="#C41C34" textLength="25.5" lengthAdjust="spacingAndGlyphs">3619</text>
<text class="num" x="115.3" y="273.1" font-size="17.6" style="font-weight:normal" stroke="#B41A30" stroke-width="0.5" fill="#C41C34" textLength="28.3" lengthAdjust="spacingAndGlyphs">2724</text>
<text class="num" x="148.6" y="277" font-size="17.6" style="font-weight:normal" stroke="#B41A30" stroke-width="0.5" fill="#C41C34" textLength="28.6" lengthAdjust="spacingAndGlyphs">2678</text>
<text class="num" x="181.7" y="80" font-size="17.6" style="font-weight:normal" stroke="#B41A30" stroke-width="0.5" fill="#C41C34" textLength="28" lengthAdjust="spacingAndGlyphs">5623</text>
<text class="num" x="216.7" y="177.7" font-size="17.6" style="font-weight:normal" stroke="#B41A30" stroke-width="0.5" fill="#C41C34" textLength="26.3" lengthAdjust="spacingAndGlyphs">4162</text>
<text class="num" x="248.8" y="196" font-size="17.6" style="font-weight:normal" stroke="#B41A30" stroke-width="0.5" fill="#C41C34" textLength="28" lengthAdjust="spacingAndGlyphs">3829</text>
<text class="num" x="284.4" y="207.8" font-size="17.6" style="font-weight:normal" stroke="#B41A30" stroke-width="0.5" fill="#C41C34" textLength="25.5" lengthAdjust="spacingAndGlyphs">3710</text>
<text class="num" x="314.4" y="242.6" font-size="17.6" style="font-weight:normal" stroke="#B41A30" stroke-width="0.5" fill="#C41C34" textLength="29.6" lengthAdjust="spacingAndGlyphs">3244</text>
<text class="num" x="348.5" y="292" font-size="17.6" style="font-weight:normal" stroke="#B41A30" stroke-width="0.5" fill="#C41C34" textLength="29.7" lengthAdjust="spacingAndGlyphs">2448</text>
<text class="num" x="382" y="302.6" font-size="17.6" style="font-weight:normal" stroke="#B41A30" stroke-width="0.5" fill="#C41C34" textLength="28.2" lengthAdjust="spacingAndGlyphs">2306</text>
<text class="num" x="415" y="136" font-size="17.6" style="font-weight:normal" stroke="#B41A30" stroke-width="0.5" fill="#C41C34" textLength="29.8" lengthAdjust="spacingAndGlyphs">4774</text>
<text class="num" x="449.4" y="227.2" font-size="17.6" style="font-weight:normal" stroke="#B41A30" stroke-width="0.5" fill="#C41C34" textLength="27.1" lengthAdjust="spacingAndGlyphs">3413</text>
<text class="num" x="482.7" y="219.2" font-size="17.6" style="font-weight:normal" stroke="#B41A30" stroke-width="0.5" fill="#C41C34" textLength="28.8" lengthAdjust="spacingAndGlyphs">3568</text>
<text class="num" x="516" y="256.5" font-size="17.6" style="font-weight:normal" stroke="#B41A30" stroke-width="0.5" fill="#C41C34" textLength="28.1" lengthAdjust="spacingAndGlyphs">3098</text>
<text class="num" x="549.9" y="265.7" font-size="17.6" style="font-weight:normal" stroke="#B41A30" stroke-width="0.5" fill="#C41C34" textLength="28" lengthAdjust="spacingAndGlyphs">2752</text>
<text class="num" x="583.8" y="313.8" font-size="17.6" style="font-weight:normal" stroke="#B41A30" stroke-width="0.5" fill="#C41C34" textLength="26.3" lengthAdjust="spacingAndGlyphs">2145</text>
<text class="num" x="617.6" y="318.8" font-size="17.6" style="font-weight:normal" stroke="#B41A30" stroke-width="0.5" fill="#C41C34" textLength="26.9" lengthAdjust="spacingAndGlyphs">2041</text>
<text class="num" x="653.2" y="168.6" font-size="17.6" style="font-weight:normal" stroke="#B41A30" stroke-width="0.5" fill="#C41C34" textLength="26.6" lengthAdjust="spacingAndGlyphs">4301</text>
<text class="num" x="683.2" y="228.9" font-size="17.6" style="font-weight:normal" stroke="#B41A30" stroke-width="0.5" fill="#C41C34" textLength="28.3" lengthAdjust="spacingAndGlyphs">3393</text>
<text class="num" x="716.5" y="238.9" font-size="17.6" style="font-weight:normal" stroke="#B41A30" stroke-width="0.5" fill="#C41C34" textLength="27.5" lengthAdjust="spacingAndGlyphs">3237</text>
<text class="num" x="749.4" y="267.5" font-size="17.6" style="font-weight:normal" stroke="#B41A30" stroke-width="0.5" fill="#C41C34" textLength="25.7" lengthAdjust="spacingAndGlyphs">2814</text>
<text class="num" x="783.2" y="261.3" font-size="17.6" style="font-weight:normal" stroke="#B41A30" stroke-width="0.5" fill="#C41C34" textLength="27.6" lengthAdjust="spacingAndGlyphs">2959</text>
<text class="num" x="818.4" y="299" font-size="17.6" style="font-weight:normal" stroke="#B41A30" stroke-width="0.5" fill="#C41C34" textLength="29.1" lengthAdjust="spacingAndGlyphs">2349</text>
<text class="num" x="852.7" y="310.7" font-size="17.6" style="font-weight:normal" stroke="#B41A30" stroke-width="0.5" fill="#C41C34" textLength="25.8" lengthAdjust="spacingAndGlyphs">2182</text>
<text class="num" x="883.8" y="143.8" font-size="17.6" style="font-weight:normal" stroke="#B41A30" stroke-width="0.5" fill="#C41C34" textLength="29.3" lengthAdjust="spacingAndGlyphs">4692</text>
<text class="num" x="917.6" y="222.6" font-size="17.6" style="font-weight:normal" stroke="#B41A30" stroke-width="0.5" fill="#C41C34" textLength="28" lengthAdjust="spacingAndGlyphs">3536</text>
<text class="num" x="948.9" y="212.1" font-size="17.6" style="font-weight:normal" stroke="#B41A30" stroke-width="0.5" fill="#C41C34" textLength="28.3" lengthAdjust="spacingAndGlyphs">3658</text>
<text class="num" x="983.2" y="208.9" font-size="25" style="font-weight:normal" stroke="#C8101E" stroke-width="1.1" fill="#D0121E" textLength="42.5" lengthAdjust="spacingAndGlyphs">3698</text>
<text class="num" x="96.11" y="503" font-size="17.6" style="font-weight:normal" stroke="#1a1a1a" stroke-width="0.65" fill="#1a1a1a" text-anchor="middle" textLength="24.3" lengthAdjust="spacingAndGlyphs">5/21</text>
<text class="num" x="162.93" y="503" font-size="17.6" style="font-weight:normal" stroke="#1a1a1a" stroke-width="0.65" fill="#1a1a1a" text-anchor="middle" textLength="24.3" lengthAdjust="spacingAndGlyphs">5/23</text>
<text class="num" x="229.76" y="503" font-size="17.6" style="font-weight:normal" stroke="#1a1a1a" stroke-width="0.65" fill="#1a1a1a" text-anchor="middle" textLength="24.3" lengthAdjust="spacingAndGlyphs">5/25</text>
<text class="num" x="296.59" y="503" font-size="17.6" style="font-weight:normal" stroke="#1a1a1a" stroke-width="0.65" fill="#1a1a1a" text-anchor="middle" textLength="24.3" lengthAdjust="spacingAndGlyphs">5/27</text>
<text class="num" x="363.42" y="503" font-size="17.6" style="font-weight:normal" stroke="#1a1a1a" stroke-width="0.65" fill="#1a1a1a" text-anchor="middle" textLength="24.3" lengthAdjust="spacingAndGlyphs">5/29</text>
<text class="num" x="430.24" y="503" font-size="17.6" style="font-weight:normal" stroke="#1a1a1a" stroke-width="0.65" fill="#1a1a1a" text-anchor="middle" textLength="24.3" lengthAdjust="spacingAndGlyphs">5/31</text>
<text class="num" x="497.07" y="503" font-size="17.6" style="font-weight:normal" stroke="#1a1a1a" stroke-width="0.65" fill="#1a1a1a" text-anchor="middle" textLength="18" lengthAdjust="spacingAndGlyphs">6/2</text>
<text class="num" x="563.9" y="503" font-size="17.6" style="font-weight:normal" stroke="#1a1a1a" stroke-width="0.65" fill="#1a1a1a" text-anchor="middle" textLength="18" lengthAdjust="spacingAndGlyphs">6/4</text>
<text class="num" x="630.73" y="503" font-size="17.6" style="font-weight:normal" stroke="#1a1a1a" stroke-width="0.65" fill="#1a1a1a" text-anchor="middle" textLength="18" lengthAdjust="spacingAndGlyphs">6/6</text>
<text class="num" x="697.56" y="503" font-size="17.6" style="font-weight:normal" stroke="#1a1a1a" stroke-width="0.65" fill="#1a1a1a" text-anchor="middle" textLength="18" lengthAdjust="spacingAndGlyphs">6/8</text>
<text class="num" x="764.38" y="503" font-size="17.6" style="font-weight:normal" stroke="#1a1a1a" stroke-width="0.65" fill="#1a1a1a" text-anchor="middle" textLength="24.3" lengthAdjust="spacingAndGlyphs">6/10</text>
<text class="num" x="831.21" y="503" font-size="17.6" style="font-weight:normal" stroke="#1a1a1a" stroke-width="0.65" fill="#1a1a1a" text-anchor="middle" textLength="24.3" lengthAdjust="spacingAndGlyphs">6/12</text>
<text class="num" x="898.04" y="503" font-size="17.6" style="font-weight:normal" stroke="#1a1a1a" stroke-width="0.65" fill="#1a1a1a" text-anchor="middle" textLength="24.3" lengthAdjust="spacingAndGlyphs">6/14</text>
<text class="num" x="964.87" y="503" font-size="17.6" style="font-weight:normal" stroke="#1a1a1a" stroke-width="0.65" fill="#1a1a1a" text-anchor="middle" textLength="24.3" lengthAdjust="spacingAndGlyphs">6/16</text>
<text class="num" x="1031.69" y="503" font-size="17.6" style="font-weight:normal" stroke="#1a1a1a" stroke-width="0.65" fill="#1a1a1a" text-anchor="middle" textLength="24.3" lengthAdjust="spacingAndGlyphs">6/18</text>
<rect x="227" y="526.2" width="9.8" height="9.5" fill="#BF0008"/>
<text class="cjk" x="242" y="537" font-size="16" fill="#1e1e1e" textLength="70.5" lengthAdjust="spacingAndGlyphs">70<tspan font-family="Liberation Serif, Noto Serif CJK SC, serif" fill="#4a4a4a">岁以上</tspan></text>
<rect x="342.5" y="526.2" width="9.8" height="9.5" fill="#E46C0A"/>
<text class="cjk" x="356.75" y="537" font-size="16" fill="#1e1e1e" textLength="57" lengthAdjust="spacingAndGlyphs">60-69<tspan font-family="Liberation Serif, Noto Serif CJK SC, serif" fill="#4a4a4a">岁</tspan></text>
<rect x="445" y="526.2" width="9.8" height="9.5" fill="#8064A6"/>
<text class="cjk" x="460" y="537" font-size="16" fill="#1e1e1e" textLength="57.5" lengthAdjust="spacingAndGlyphs">40-59<tspan font-family="Liberation Serif, Noto Serif CJK SC, serif" fill="#4a4a4a">岁</tspan></text>
<rect x="548.75" y="526.2" width="9.8" height="9.5" fill="#8CB24B"/>
<text class="cjk" x="563.75" y="537" font-size="16" fill="#1e1e1e" textLength="56.75" lengthAdjust="spacingAndGlyphs">20-39<tspan font-family="Liberation Serif, Noto Serif CJK SC, serif" fill="#4a4a4a">岁</tspan></text>
<rect x="652" y="526.2" width="9.8" height="9.5" fill="#4494B6"/>
<text class="cjk" x="666.25" y="537" font-size="16" fill="#1e1e1e" textLength="57.5" lengthAdjust="spacingAndGlyphs">12-19<tspan font-family="Liberation Serif, Noto Serif CJK SC, serif" fill="#4a4a4a">岁</tspan></text>
<rect x="755" y="526.2" width="9.8" height="9.5" fill="#F8BA00"/>
<text class="cjk" x="769.25" y="537" font-size="16" fill="#1e1e1e" textLength="30.5" lengthAdjust="spacingAndGlyphs">0-11</text>
<text x="804.5" y="537.5" font-family="Liberation Serif, Noto Serif CJK SC, serif" font-size="16" fill="#4a4a4a">岁</text>
<text class="cjk" x="960.5" y="42" font-size="26" fill="#f0f43a" filter="url(#ds)" textLength="104" lengthAdjust="spacingAndGlyphs">狮城新闻</text>
<text class="cjk" x="7" y="588" font-size="16.5" fill="#222" textLength="159" lengthAdjust="spacingAndGlyphs">图表：思翔小编</text>
<text x="13.9" y="590.2" font-family="Liberation Sans,sans-serif" font-size="30" fill="#eef24a" fill-opacity="0.92" filter="url(#ds)" textLength="176" lengthAdjust="spacingAndGlyphs">shicheng.news</text>
<path d="M809 533.6 C800.8 533.6 794.2 539.2 794.2 546.2 C794.2 550 796.2 553.4 799.4 555.6 L798.2 560.2 L803.6 557.6 C805.3 558.1 807.1 558.4 809 558.4 C817.2 558.4 823.8 552.8 823.8 546.2 C823.8 539.2 817.2 533.6 809 533.6 Z" transform="translate(-1.1,1.1)" fill="#a8a8a8"/>
<path d="M809 533.6 C800.8 533.6 794.2 539.2 794.2 546.2 C794.2 550 796.2 553.4 799.4 555.6 L798.2 560.2 L803.6 557.6 C805.3 558.1 807.1 558.4 809 558.4 C817.2 558.4 823.8 552.8 823.8 546.2 C823.8 539.2 817.2 533.6 809 533.6 Z" fill="#fff"/>
<circle cx="803.6" cy="540.4" r="1" fill="#b0b0b0"/><circle cx="815.3" cy="540.2" r="1" fill="#b0b0b0"/>
<path d="M823.4 543.2 C816.5 543.2 811 548.3 811 554.7 C811 561.1 816.5 566.1 823.4 566.1 C825.1 566.1 826.7 565.8 828.2 565.3 L832.4 567.4 L831.6 563.4 C834.2 561.4 835.8 558.2 835.8 554.7 C835.8 548.3 830.3 543.2 823.4 543.2 Z" transform="translate(-1.1,1.1)" fill="#8a8a8a"/>
<path d="M823.4 543.2 C816.5 543.2 811 548.3 811 554.7 C811 561.1 816.5 566.1 823.4 566.1 C825.1 566.1 826.7 565.8 828.2 565.3 L832.4 567.4 L831.6 563.4 C834.2 561.4 835.8 558.2 835.8 554.7 C835.8 548.3 830.3 543.2 823.4 543.2 Z" fill="#fff" stroke="#d0d0d0" stroke-width="0.5"/>
<circle cx="818.4" cy="550" r="1" fill="#9a9a9a"/><circle cx="827.9" cy="550" r="1" fill="#9a9a9a"/>
<text class="cjk" x="841.8" y="563.4" font-size="29" fill="#5a5a5a" textLength="202" lengthAdjust="spacingAndGlyphs">A计划学习生活篇</text>
<text class="cjk" x="843" y="562.3" font-size="29" fill="#fff" textLength="202" lengthAdjust="spacingAndGlyphs">A计划学习生活篇</text>
</svg></body></html>
